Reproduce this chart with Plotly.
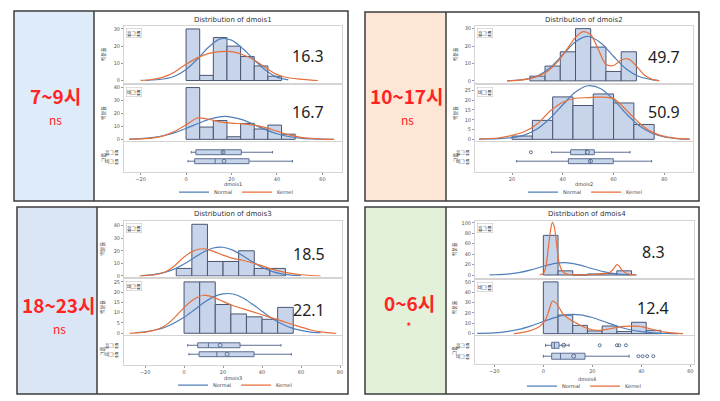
import plotly.graph_objects as go

W, H = 720, 401

# ---------------- data ----------------
time_labels = ["7~9시", "10~17시", "18~23시", "0~6시"]
sig_labels = ["ns", "ns", "ns", "*"]
var_names = ["dmois1", "dmois2", "dmois3", "dmois4"]
group_names = ["흡그룹", "비그룹"]
top_mean_text = ["16.3", "49.7", "18.5", "8.3"]
mid_mean_text = ["16.7", "50.9", "22.1", "12.4"]

# panel 1 (dmois1)
p1_top_mid = [3, 9, 15, 21, 27, 33, 39]
p1_top_pct = [30, 3, 25, 20, 14, 8.5, 2.5]
p1_mid_mid = [3, 9, 15, 21, 27, 33, 39, 45]
p1_mid_pct = [40, 9.5, 14.5, 2, 12.3, 8, 11, 4]
p1_bin = 6
p1_top_norm_x = [-18, -15, -10, -5, 0, 5, 10, 15, 20, 25, 30, 35, 40, 45]
p1_top_norm_y = [0.1, 0.3, 0.9, 2.5, 6.4, 12.5, 19.5, 24.2, 23.5, 18.5, 12, 6, 2, 0.4]
p1_top_kern_x = [-20, -15, -10, -5, 0, 5, 10, 15, 20, 25, 30, 35, 40, 45, 50, 55, 58]
p1_top_kern_y = [0.1, 0.6, 2, 5, 9.5, 13.2, 15.8, 16.8, 16.8, 15, 12, 7.5, 3.5, 1.6, 0.8, 0.2, 0]
p1_mid_norm_x = [-25, -20, -15, -10, -5, 0, 5, 10, 17, 25, 30, 35, 40, 45, 50, 55, 60, 65]
p1_mid_norm_y = [0.2, 0.5, 1.3, 2.8, 5.2, 8.4, 12, 15.4, 17.8, 15, 11.3, 7.5, 4.3, 2.2, 1, 0.4, 0.1, 0]
p1_mid_kern_x = [-25, -20, -15, -10, -5, 0, 5, 10, 15, 20, 25, 30, 35, 40, 45, 50, 55, 60, 65]
p1_mid_kern_y = [0, 0.3, 0.9, 2.7, 6.2, 11.2, 16.5, 15.5, 13.5, 12.5, 12, 11, 9, 6.3, 3.7, 1.7, 0.7, 0.2, 0]
# box stats: [lowerfence, q1, median, q3, upperfence, mean]
p1_box_a = [2.3, 4.3, 16.2, 24.3, 38, 16.3]
p1_box_b = [0.9, 3.8, 12.8, 27.7, 46.8, 16.7]
p1_out_a = []
p1_out_b = []

# panel 2 (dmois2)
p2_top_mid = [30, 36, 42, 48, 54, 60, 66]
p2_top_pct = [2.7, 8.5, 16.7, 30, 19.4, 5.4, 16.7]
p2_top_bin = 6
p2_mid_mid = [24, 32, 40, 48, 56, 64, 72]
p2_mid_pct = [1.7, 9.7, 21.7, 17.3, 23.2, 18.6, 7.6]
p2_mid_bin = 8
p2_top_norm_x = [18, 20, 25, 30, 35, 40, 45, 50, 55, 60, 65, 70, 75, 78]
p2_top_norm_y = [0, 0.2, 0.8, 2.8, 7.5, 15, 22.5, 25.5, 21.8, 14, 6.8, 2.5, 0.7, 0.2]
p2_top_kern_x = [18, 22, 26, 30, 34, 38, 42, 45, 48, 51, 54, 57, 60, 63, 66, 69, 72, 75, 78]
p2_top_kern_y = [0, 0.3, 1, 2.5, 5.5, 11, 19, 25, 28.3, 26.5, 18, 9.5, 8.8, 12, 12.5, 8.5, 3.5, 1, 0]
p2_mid_norm_x = [7, 10, 15, 20, 25, 30, 35, 40, 45, 50, 55, 60, 65, 70, 75, 80, 85, 90]
p2_mid_norm_y = [0.1, 0.2, 0.4, 0.9, 2.3, 5.4, 10.8, 17.7, 24.2, 27.4, 25.9, 20.3, 13.1, 7.1, 3.2, 1.2, 0.4, 0.1]
p2_mid_kern_x = [7, 10, 15, 20, 25, 30, 35, 40, 45, 50, 55, 60, 65, 70, 75, 80, 85, 90]
p2_mid_kern_y = [0.1, 0.3, 0.8, 2, 4, 8, 14.5, 19, 21, 21.3, 21.6, 20.8, 15, 8.5, 3.8, 1.5, 0.5, 0.1]
p2_box_a = [35.6, 43.1, 49, 52.4, 66.5, 49.7]
p2_box_b = [21.8, 42.2, 50.8, 59.9, 75, 50.9]
p2_out_a = [27.4]
p2_out_b = []

# panel 3 (dmois3)
p3_top_mid = [0, 8, 16, 24, 32, 40, 48]
p3_top_pct = [6, 41, 11.5, 11.5, 20, 6, 6]
p3_mid_mid = [4, 12, 20, 28, 36, 44, 52]
p3_mid_pct = [25, 25, 14, 9.4, 8, 6.8, 12.6]
p3_bin = 8
p3_top_norm_x = [-22, -20, -15, -10, -5, 0, 5, 10, 15, 20, 25, 30, 35, 40, 45, 50, 55, 60]
p3_top_norm_y = [0.3, 0.5, 1.3, 2.8, 5.5, 9.5, 14.3, 19, 22.2, 22.8, 20.5, 16.2, 11.3, 6.9, 3.7, 1.7, 0.7, 0.2]
p3_top_kern_x = [-23, -20, -15, -10, -5, 0, 5, 10, 15, 20, 25, 30, 35, 40, 45, 50, 55, 60, 65, 70]
p3_top_kern_y = [0, 0.3, 1, 3, 8, 15, 20, 21.6, 19.5, 16.5, 14, 12.5, 10.5, 8, 5.5, 3.5, 2, 1, 0.4, 0]
p3_mid_norm_x = [-25, -20, -10, 0, 5, 10, 15, 20, 25, 30, 35, 40, 45, 50, 55, 60, 65, 70]
p3_mid_norm_y = [0.3, 0.7, 2.8, 7.8, 11.2, 14.8, 17.7, 19.2, 19.1, 17.3, 14.2, 10.7, 7.3, 4.6, 2.6, 1.4, 0.6, 0.3]
p3_mid_kern_x = [-28, -25, -20, -15, -10, -5, 0, 5, 10, 15, 20, 25, 30, 35, 40, 45, 50, 55, 60, 65, 70, 75, 78]
p3_mid_kern_y = [0, 0.2, 0.6, 1.5, 3.5, 7.5, 12.5, 16.5, 18.5, 17.5, 15.5, 13.5, 12, 10.5, 9, 7.5, 6, 4.5, 3, 1.6, 0.7, 0.2, 0]
p3_box_a = [1.9, 7, 12.5, 28.7, 49.7, 18.5]
p3_box_b = [2.5, 7.7, 16.8, 35.9, 55, 22.1]
p3_out_a = []
p3_out_b = []

# panel 4 (dmois4)
p4_top_mid = [3, 9, 15, 21, 27, 33]
p4_top_pct = [76, 8, 0, 2, 3, 8]
p4_mid_mid = [3, 9, 15, 21, 27, 33, 39, 45]
p4_mid_pct = [50, 18, 8, 2.6, 7.4, 2, 11, 3.2]
p4_bin = 6
p4_top_norm_x = [-22, -20, -15, -10, -5, 0, 5, 8.3, 10, 15, 20, 25, 30, 35, 38]
p4_top_norm_y = [0.3, 0.5, 1.6, 4.6, 9.9, 16.8, 22.4, 23.6, 23.3, 19, 12.1, 6.1, 2.3, 0.7, 0.3]
p4_top_kern_x = [-1.5, 0, 1, 2, 3, 3.7, 4.5, 5.5, 6.5, 8, 10, 13, 17, 21, 24, 26, 28, 29, 30, 31, 32, 34, 36, 38]
p4_top_kern_y = [0, 3, 15, 50, 88, 101, 92, 55, 22, 6, 1.5, 0.5, 0.5, 1, 2, 3, 8, 14, 20, 17, 10, 3, 0.8, 0]
p4_mid_norm_x = [-27, -25, -20, -15, -10, -5, 0, 5, 10, 15, 20, 25, 30, 35, 40, 45, 50, 55]
p4_mid_norm_y = [0.2, 0.3, 0.8, 2, 4.1, 7.5, 11.7, 15.8, 18.3, 18.2, 15.6, 11.5, 7.4, 4, 1.9, 0.8, 0.3, 0.1]
p4_mid_kern_x = [-12, -9, -6, -3, -1, 1, 2.5, 3.7, 5, 6.5, 8, 10, 12, 14, 17, 20, 23, 26, 29, 32, 35, 38, 41, 44, 47, 50, 54, 57]
p4_mid_kern_y = [0, 1, 2.5, 5, 8, 14, 24, 31.4, 30, 25, 19, 15, 12, 9.5, 6, 3.8, 3.2, 4.2, 5.6, 6.8, 7.3, 7.2, 6.3, 4.5, 2.8, 1.4, 0.5, 0]
p4_box_a = [0.9, 3.4, 4.5, 6.4, 10.5, 8.3]
p4_box_b = [0, 3.4, 7, 17, 35, 12.4]
p4_out_a = [23, 30, 31, 33.7]
p4_out_b = [38.8, 40.5, 42.4, 44.9]

# ---------------- styling / layout (pixels) ----------------
BAR_FILL = "#c7d4e9"
BAR_EDGE = "#4a5672"
NORMAL_C = "#4f7fba"
KERNEL_C = "#e76f3a"
FRAME_C = "#d4d4d4"
TICK_C = "#555555"
RED = "#ff2323"
FONT = "Noto Sans CJK KR"

panel_boxes = [  # outer frame x0,y0,x1,y1 ; left box right edge ; fill
    (14, 11, 348, 202, 94, "#deebf9"),
    (365, 12, 699, 202, 446, "#fde6d6"),
    (17, 208, 348, 396, 97, "#dae6f6"),
    (365, 208, 699, 396, 446, "#e3f1da"),
]
geo = [
    dict(px=(124, 342), top=(26, 83), mid=(85, 142), box=(143, 173), rows=(153, 162),
         xr=[-27.3, 68.6], xt=[-20, 0, 20, 40, 60], ytop=[-1.2, 31.8], ttop=[0, 10, 20, 30],
         ymid=[-1.5, 42.3], tmid=[0, 10, 20, 30, 40], title=(233, 20), xtitle=185, leg=(236, 193),
         ytx=103, lab=(55, 96, 120), num=(308, 56, 113)),
    dict(px=(475, 693), top=(26, 83), mid=(85, 142), box=(143, 173), rows=(153, 162),
         xr=[5.4, 91.3], xt=[20, 40, 60, 80], ytop=[-1, 31.6], ttop=[0, 10, 20, 30],
         ymid=[-1, 28], tmid=[0, 5, 10, 15, 20, 25], title=(584, 20), xtitle=185, leg=(585, 193),
         ytx=455, lab=(407, 96, 120), num=(664, 57, 113)),
    dict(px=(124, 342), top=(222, 278), mid=(280, 337), box=(338, 367), rows=(347, 356),
         xr=[-30.8, 81], xt=[-20, 0, 20, 40, 60, 80], ytop=[-0.5, 43.7], ttop=[0, 10, 20, 30, 40],
         ymid=[-1, 26.6], tmid=[0, 5, 10, 15, 20, 25], title=(233, 215), xtitle=380, leg=(235, 387),
         ytx=102, lab=(59, 306, 330), num=(309, 255, 312)),
    dict(px=(475, 694), top=(222, 279), mid=(281, 337), box=(338, 366), rows=(347, 358),
         xr=[-27.9, 61.5], xt=[-20, 0, 20, 40, 60], ytop=[-5, 103.8], ttop=[0, 20, 40, 60, 80, 100],
         ymid=[-1.6, 52.2], tmid=[0, 10, 20, 30, 40, 50], title=(587, 215), xtitle=381, leg=(584, 388),
         ytx=454, lab=(409, 304, 328), num=(653, 253, 310)),
]

panels = [
    dict(tm=p1_top_mid, tp=p1_top_pct, tb=p1_bin, mm=p1_mid_mid, mp=p1_mid_pct, mb=p1_bin,
         tnx=p1_top_norm_x, tny=p1_top_norm_y, tkx=p1_top_kern_x, tky=p1_top_kern_y,
         mnx=p1_mid_norm_x, mny=p1_mid_norm_y, mkx=p1_mid_kern_x, mky=p1_mid_kern_y,
         ba=p1_box_a, bb=p1_box_b, oa=p1_out_a, ob=p1_out_b),
    dict(tm=p2_top_mid, tp=p2_top_pct, tb=p2_top_bin, mm=p2_mid_mid, mp=p2_mid_pct, mb=p2_mid_bin,
         tnx=p2_top_norm_x, tny=p2_top_norm_y, tkx=p2_top_kern_x, tky=p2_top_kern_y,
         mnx=p2_mid_norm_x, mny=p2_mid_norm_y, mkx=p2_mid_kern_x, mky=p2_mid_kern_y,
         ba=p2_box_a, bb=p2_box_b, oa=p2_out_a, ob=p2_out_b),
    dict(tm=p3_top_mid, tp=p3_top_pct, tb=p3_bin, mm=p3_mid_mid, mp=p3_mid_pct, mb=p3_bin,
         tnx=p3_top_norm_x, tny=p3_top_norm_y, tkx=p3_top_kern_x, tky=p3_top_kern_y,
         mnx=p3_mid_norm_x, mny=p3_mid_norm_y, mkx=p3_mid_kern_x, mky=p3_mid_kern_y,
         ba=p3_box_a, bb=p3_box_b, oa=p3_out_a, ob=p3_out_b),
    dict(tm=p4_top_mid, tp=p4_top_pct, tb=p4_bin, mm=p4_mid_mid, mp=p4_mid_pct, mb=p4_bin,
         tnx=p4_top_norm_x, tny=p4_top_norm_y, tkx=p4_top_kern_x, tky=p4_top_kern_y,
         mnx=p4_mid_norm_x, mny=p4_mid_norm_y, mkx=p4_mid_kern_x, mky=p4_mid_kern_y,
         ba=p4_box_a, bb=p4_box_b, oa=p4_out_a, ob=p4_out_b),
]


def fx(px):
    return px / W


def fy(py):
    return 1 - py / H


def note(xp, yp, text, size, color="#333", family=None, angle=0, xanchor="center", yanchor="middle", **kw):
    f = dict(size=size, color=color)
    if family:
        f["family"] = family
    d = dict(x=fx(xp), y=fy(yp), xref="paper", yref="paper", text=text, showarrow=False,
             xanchor=xanchor, yanchor=yanchor, textangle=angle, font=f)
    d.update(kw)
    return d


fig = go.Figure()
layout = dict(width=W, height=H, margin=dict(l=0, r=0, t=0, b=0),
              paper_bgcolor="white", plot_bgcolor="white", showlegend=True,
              font=dict(family=FONT, color="#333"))
shapes = []
annotations = []

axis_n = 0


def new_axes(xpx, ypx, xr, yr, show_x=False, xt=None, yt=None, yticks="outside", show_y=True):
    global axis_n
    axis_n += 1
    n = axis_n
    sx = "" if n == 1 else str(n)
    layout["xaxis" + sx] = dict(
        domain=[fx(xpx[0]), fx(xpx[1])], range=xr, anchor="y" + sx,
        showgrid=False, zeroline=False, showline=True, mirror=True, linecolor=FRAME_C, linewidth=1,
        showticklabels=show_x, ticks="outside" if show_x else "", tickvals=xt,
        ticklen=2, tickcolor="#999", tickfont=dict(size=5, color=TICK_C, family="DejaVu Sans"))
    layout["yaxis" + sx] = dict(
        domain=[fy(ypx[1]), fy(ypx[0])], range=yr, anchor="x" + sx,
        showgrid=False, zeroline=False, showline=True, mirror=True, linecolor=FRAME_C, linewidth=1,
        ticks=yticks, ticklen=2, tickcolor="#999", tickvals=yt, showticklabels=show_y,
        tickfont=dict(size=5, color=TICK_C, family="DejaVu Sans"))
    return "x" + sx, "y" + sx


for i, (pd_, g) in enumerate(zip(panels, geo)):
    x0, y0, x1, y1, lb, fill = panel_boxes[i]
    leg = "legend" if i == 0 else "legend%d" % (i + 1)
    shapes.append(dict(type="rect", xref="paper", yref="paper", x0=fx(x0), x1=fx(lb), y0=fy(y1), y1=fy(y0),
                       fillcolor=fill, line=dict(width=0), layer="below"))
    shapes.append(dict(type="rect", xref="paper", yref="paper", x0=fx(x0), x1=fx(x1), y0=fy(y1), y1=fy(y0),
                       line=dict(color="#3c3c3c", width=1.5)))
    shapes.append(dict(type="line", xref="paper", yref="paper", x0=fx(lb), x1=fx(lb), y0=fy(y1), y1=fy(y0),
                       line=dict(color="#3c3c3c", width=1.5)))

    for part in ("top", "mid"):
        if part == "top":
            xa, ya = new_axes(g["px"], g["top"], g["xr"], g["ytop"], yt=g["ttop"])
            mids, pct, bw = pd_["tm"], pd_["tp"], pd_["tb"]
            nx, ny, kx, ky = pd_["tnx"], pd_["tny"], pd_["tkx"], pd_["tky"]
            inset = group_names[0]
            ptop, pbot = g["top"]
        else:
            xa, ya = new_axes(g["px"], g["mid"], g["xr"], g["ymid"], yt=g["tmid"])
            mids, pct, bw = pd_["mm"], pd_["mp"], pd_["mb"]
            nx, ny, kx, ky = pd_["mnx"], pd_["mny"], pd_["mkx"], pd_["mky"]
            inset = group_names[1]
            ptop, pbot = g["mid"]
        fig.add_trace(go.Bar(x=mids, y=pct, width=bw, xaxis=xa, yaxis=ya, showlegend=False,
                             marker=dict(color=BAR_FILL, line=dict(color=BAR_EDGE, width=1))))
        fig.add_trace(go.Scatter(x=nx, y=ny, mode="lines", xaxis=xa, yaxis=ya, name="Normal",
                                 legend=leg, showlegend=(part == "top"),
                                 line=dict(color=NORMAL_C, width=1.2, shape="spline", smoothing=0.8)))
        fig.add_trace(go.Scatter(x=kx, y=ky, mode="lines", xaxis=xa, yaxis=ya, name="Kernel",
                                 legend=leg, showlegend=(part == "top"),
                                 line=dict(color=KERNEL_C, width=1.2, shape="spline", smoothing=0.8)))
        annotations.append(note(g["px"][0] + 2, ptop + 2, inset, 5, "#111", xanchor="left", yanchor="top",
                                bordercolor="#bbbbbb", borderwidth=0.5, borderpad=0.5, bgcolor="white"))
        annotations.append(note(g["ytx"], (ptop + pbot) / 2, "백분율", 5, "#333", angle=-90))

    # box plot
    r_a, r_b = g["rows"]
    unit = r_b - r_a
    b0, b1 = g["box"]
    yr = [1 - (b1 - r_b) / unit, 2 + (r_a - b0) / unit]
    xa, ya = new_axes(g["px"], g["box"], g["xr"], yr, show_x=True, xt=g["xt"],
                      yt=[2, 1], yticks="", show_y=False)
    for pos, st, outs, gname, rowpx in ((2, pd_["ba"], pd_["oa"], group_names[0], r_a),
                                        (1, pd_["bb"], pd_["ob"], group_names[1], r_b)):
        fig.add_trace(go.Box(y=[pos], lowerfence=[st[0]], q1=[st[1]], median=[st[2]], q3=[st[3]],
                             upperfence=[st[4]], orientation="h", width=0.55, xaxis=xa, yaxis=ya,
                             fillcolor=BAR_FILL, line=dict(color="#5b6f93", width=1),
                             boxpoints=False, showlegend=False))
        fig.add_trace(go.Scatter(x=[st[5]], y=[pos], mode="markers", xaxis=xa, yaxis=ya, showlegend=False,
                                 marker=dict(symbol="circle-open", size=4, color="#5b6f93", line=dict(width=1))))
        if outs:
            fig.add_trace(go.Scatter(x=outs, y=[pos] * len(outs), mode="markers", xaxis=xa, yaxis=ya,
                                     showlegend=False,
                                     marker=dict(symbol="circle-open", size=3, color="#5b6f93", line=dict(width=1))))
        annotations.append(note(g["px"][0] - 3, rowpx, gname, 5, "#333", xanchor="right"))
    annotations.append(note(g["ytx"], (b0 + b1) / 2, "그룹", 5, "#333", angle=-90))

    # titles and texts
    annotations.append(note(g["title"][0], g["title"][1], "Distribution of " + var_names[i], 7, "#333",
                            family="DejaVu Sans"))
    annotations.append(note(g["title"][0], g["xtitle"], var_names[i], 5, "#444", family="DejaVu Sans"))
    annotations.append(note(g["num"][0], g["num"][1], top_mean_text[i], 16, "#1e1e1e", family="Noto Sans"))
    annotations.append(note(g["num"][0], g["num"][2], mid_mean_text[i], 16, "#1e1e1e", family="Noto Sans"))
    annotations.append(note(g["lab"][0], g["lab"][1], "<b>" + time_labels[i] + "</b>", 19, RED, family=FONT))
    annotations.append(note(g["lab"][0], g["lab"][2], sig_labels[i], 12, RED, family=FONT))
    layout[leg] = dict(x=fx(g["leg"][0]), y=fy(g["leg"][1]), xanchor="center", yanchor="middle",
                       orientation="h", font=dict(size=5, color="#444", family="DejaVu Sans"),
                       bgcolor="rgba(0,0,0,0)", itemwidth=30, tracegroupgap=0)

layout["shapes"] = shapes
layout["annotations"] = annotations
fig.update_layout(**layout)
fig.write_html("out.html", config={"displayModeBar": False},
               post_script="document.body.style.margin='0';document.body.style.padding='0';")
